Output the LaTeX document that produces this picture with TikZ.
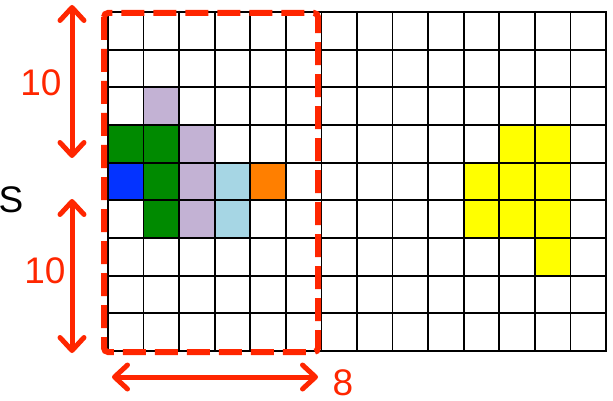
\documentclass[tikz,border=0pt]{standalone}
\usepackage{fontspec}
\setmainfont{Liberation Sans}
\usetikzlibrary{arrows.meta}
\definecolor{redm}{RGB}{255,38,0}
\definecolor{cgreen}{RGB}{0,138,0}
\definecolor{cblue}{RGB}{4,51,255}
\definecolor{clav}{RGB}{195,178,212}
\definecolor{clblue}{RGB}{166,214,228}
\definecolor{corange}{RGB}{255,127,0}
\definecolor{cyellow}{RGB}{255,255,0}
\tikzset{
  gridline/.style={draw=black, line width=1.8pt},
  dimarrow/.style={draw=redm, line width=5pt, line cap=round, line join=round,
    {Straight Barb[length=13pt,width=24pt,line cap=round,line join=round]}-{Straight Barb[length=13pt,width=24pt,line cap=round,line join=round]}},
  redlab/.style={text=redm, inner sep=0pt, font=\fontsize{37}{40}\selectfont},
  blacklab/.style={text=black, inner sep=0pt, font=\fontsize{37}{40}\selectfont},
  framebox/.style={draw=redm, line width=6pt, dash pattern=on 23pt off 9pt, rounded corners=4pt}
}
\begin{document}
\begin{tikzpicture}[x=1pt,y=-1pt]
\useasboundingbox (0,0) rectangle (613,401);
\def\dx{35.57}\def\dy{37.67}
% coloured cells
\foreach \c/\r/\col in {1/2/clav, 0/3/cgreen, 1/3/cgreen, 2/3/clav,
  0/4/cblue, 1/4/cgreen, 2/4/clav, 3/4/clblue, 4/4/corange,
  1/5/cgreen, 2/5/clav, 3/5/clblue,
  11/3/cyellow, 12/3/cyellow, 10/4/cyellow, 11/4/cyellow, 12/4/cyellow,
  10/5/cyellow, 11/5/cyellow, 12/5/cyellow, 12/6/cyellow}
  \fill[\col] ({108+\c*\dx},{12+\r*\dy}) rectangle ++(\dx,\dy);
% grid
\foreach \i in {0,...,14}
  \draw[gridline] ({108+\i*\dx},11) -- ({108+\i*\dx},352);
\foreach \j in {0,...,9}
  \draw[gridline] (107,{12+\j*\dy}) -- (607,{12+\j*\dy});
% red dashed frame
\draw[framebox] (104,13) rectangle (318,352);
% arrows
\coordinate (t1) at (72,5);
\coordinate (t2) at (72,158);
\coordinate (b1) at (72,199);
\coordinate (b2) at (72,353);
\coordinate (h1) at (112,377);
\coordinate (h2) at (318,377);
\draw[dimarrow] (t1) -- (t2);
\draw[dimarrow] (b1) -- (b2);
\draw[dimarrow] (h1) -- (h2);
% labels
\node[redlab] (lt) at (41,83) {10};
\node[redlab] (lb) at (45,271) {10};
\node[blacklab] (ls) at (11,200) {S};
\node[redlab] (l8) at (343,383) {8};
\end{tikzpicture}
\end{document}
